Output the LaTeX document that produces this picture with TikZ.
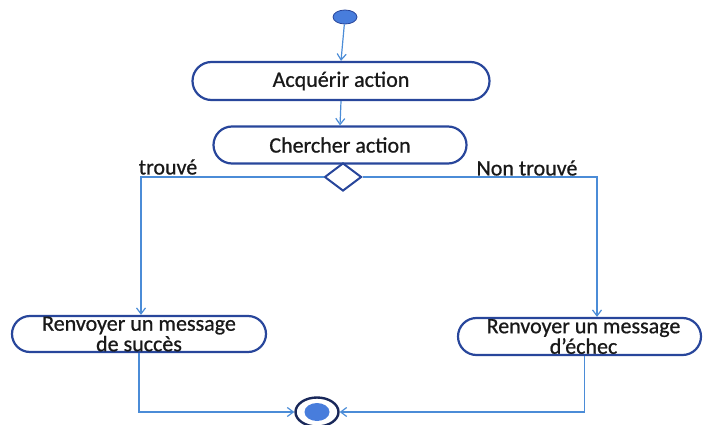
\documentclass[tikz,border=0pt]{standalone}
\usepackage{fontspec}
\setmainfont{Carlito}[UprightFeatures={FakeBold=0.8}]
\usetikzlibrary{arrows.meta,shapes.geometric,shapes.misc}
\definecolor{edgeblue}{RGB}{40,70,155}
\definecolor{lineblue}{RGB}{75,140,215}
\definecolor{dotblue}{RGB}{72,125,220}
\definecolor{ringnavy}{RGB}{25,40,90}
\tikzset{
  activity/.style={draw=edgeblue, line width=2.2pt, rounded rectangle, inner sep=0pt,
    font=\fontsize{22}{20.5}\selectfont, align=center, text=black!90},
  flow/.style={draw=lineblue, line width=1.2pt, -{Straight Barb[length=6pt,width=9pt]}},
  guard/.style={font=\fontsize{22}{22}\selectfont, text=black!90, inner sep=0pt},
}
\begin{document}
\begin{tikzpicture}[x=1pt,y=-1pt]
\useasboundingbox (0,0) rectangle (703,425);

% initial node
\node[ellipse, fill=dotblue, draw=edgeblue, line width=0.8pt, minimum width=24pt,
      minimum height=14pt, inner sep=0pt] (start) at (345,17) {};

% actions
\node[activity, minimum width=297pt, minimum height=38pt] (acq) at (341,81) {Acquérir action};
\node[activity, minimum width=253pt, minimum height=37pt] (cher) at (340,145) {Chercher action};
\node[activity, minimum width=254pt, minimum height=36pt] (succ) at (139,334)
  {Renvoyer un message\\de succès};
\node[activity, minimum width=243pt, minimum height=37pt] (ech) at (579.5,336.5)
  {\hspace*{8pt}Renvoyer un message\\\hspace*{8pt}d’échec};

% decision
\node[diamond, draw=edgeblue, line width=2pt, fill=white, minimum width=37pt,
      minimum height=28pt, inner sep=0pt] (dec) at (343,177) {};

% final node
\node[ellipse, draw=ringnavy, line width=2.4pt, minimum width=43pt, minimum height=29pt,
      inner sep=0pt] (fin) at (317,412) {};
\node[ellipse, fill=dotblue, minimum width=25pt, minimum height=18pt, inner sep=0pt]
  (findot) at (317,412) {};

% guards
\node[guard] (lt) at (168,167) {trouvé};
\node[guard] (lnt) at (527,168) {Non trouvé};

% branch corners
\coordinate (lk) at (141,177);
\coordinate (rk) at (597,177);

% flows
\draw[flow] (start) -- (acq.north);
\draw[flow] (acq.south) -- (cher.north);
\draw[flow] (dec.west) -- (lk) -- (lk |- succ.north);
\draw[flow] (dec.east) -- (rk) -- (rk |- ech.north);
\draw[flow] (succ.south) |- (fin.west);
\draw[flow] ([xshift=5pt]ech.south) |- (fin.east);
\end{tikzpicture}
\end{document}
